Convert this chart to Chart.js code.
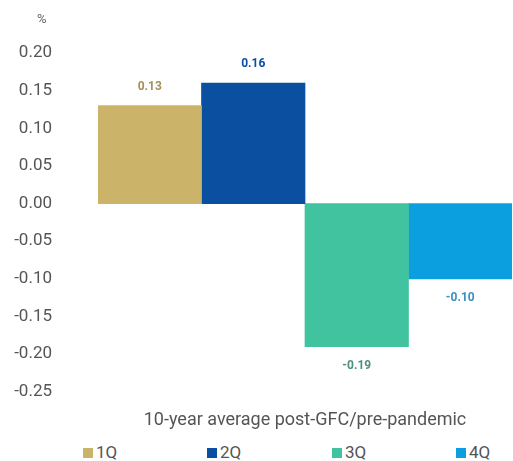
<!DOCTYPE html>
<html>
<head>
<meta charset="utf-8">
<script src="https://cdn.jsdelivr.net/npm/chart.js@4"></script>
<style>
    html, body { margin: 0; padding: 0; background: #fff; }
    #wrap { position: relative; width: 513px; height: 461px; }
    #unit { position: absolute; left: 37px; top: 11px; font: 13px Roboto, sans-serif; color: #666; }
    #legend { position: absolute; left: 0; top: 442px; width: 513px; height: 20px; font: 17px Roboto, sans-serif; color: #555; }
    #legend span { position: absolute; top: 0; white-space: nowrap; line-height: 20px; }
    #legend i { display: inline-block; width: 10px; height: 10px; margin-right: 3px; vertical-align: 0px; }
</style>
</head>
<body>
<div id="wrap">
    <div id="unit">%</div>
    <canvas id="chart" width="513" height="440"></canvas>
    <div id="legend"></div>
</div>
<script>
// dados
const quarters = ['1Q', '2Q', '3Q', '4Q'];
const values = [0.13, 0.16, -0.19, -0.10];
const barColors = ['#cbb46a', '#0b4fa0', '#40c39e', '#0c9fe0'];
const labelColors = ['#a3905a', '#0b4fa0', '#4f8f80', '#3a90c4'];
const xTitle = '10-year average post-GFC/pre-pandemic';

// legenda em HTML, espalhada pela largura
const legendX = [83, 207, 332, 456];
const legendEl = document.getElementById('legend');
quarters.forEach((q, i) => {
    const item = document.createElement('span');
    item.style.left = legendX[i] + 'px';
    item.innerHTML = '<i style="background:' + barColors[i] + '"></i>' + q;
    legendEl.appendChild(item);
});

// rótulos de valor acima / abaixo das barras
const valueLabels = {
    id: 'valueLabels',
    afterDatasetsDraw(chart) {
        const ctx = chart.ctx;
        ctx.save();
        ctx.font = 'bold 12px Roboto, sans-serif';
        ctx.textAlign = 'center';
        chart.data.datasets.forEach((ds, i) => {
            const bar = chart.getDatasetMeta(i).data[0];
            const v = ds.data[0];
            ctx.fillStyle = labelColors[i];
            if (v >= 0) {
                ctx.textBaseline = 'bottom';
                ctx.fillText(v.toFixed(2), bar.x, bar.y - 13);
            } else {
                ctx.textBaseline = 'top';
                ctx.fillText(v.toFixed(2), bar.x, bar.y + 13);
            }
        });
        ctx.restore();
    }
};

new Chart(document.getElementById('chart'), {
    type: 'bar',
    data: {
        labels: [''],
        datasets: quarters.map((q, i) => ({
            label: q,
            data: [values[i]],
            backgroundColor: barColors[i],
            borderWidth: 0
        }))
    },
    options: {
        responsive: false,
        animation: false,
        layout: { padding: { top: 53, right: 1, left: 8, bottom: 0 } },
        datasets: { bar: { categoryPercentage: 1, barPercentage: 1 } },
        plugins: {
            legend: { display: false },
            tooltip: { enabled: false }
        },
        scales: {
            y: {
                min: -0.25,
                max: 0.2,
                afterFit: axis => { axis.width = 90; },
                ticks: {
                    stepSize: 0.05,
                    autoSkip: false,
                    padding: 38,
                    color: '#555',
                    font: { family: 'Roboto', size: 17 },
                    callback: v => v.toFixed(2)
                },
                grid: { display: false },
                border: { display: false }
            },
            x: {
                afterFit: axis => { axis.height = 39; },
                ticks: { display: false },
                grid: { display: false },
                border: { display: false },
                title: {
                    display: true,
                    text: xTitle,
                    color: '#555',
                    font: { family: 'Roboto', size: 18 },
                    padding: { top: 0, bottom: 0 }
                }
            }
        }
    },
    plugins: [valueLabels]
});
</script>
</body>
</html>
